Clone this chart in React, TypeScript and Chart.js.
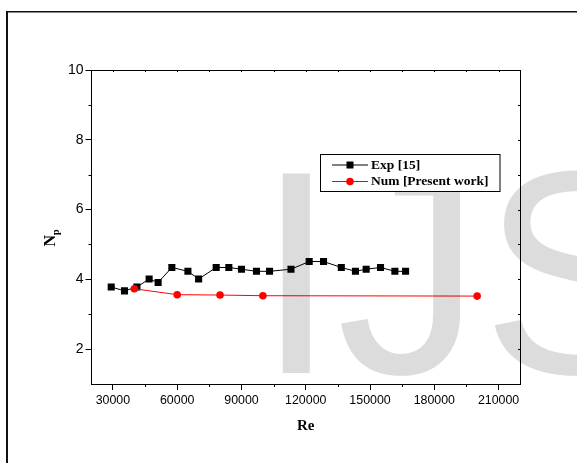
import React, { useEffect, useRef } from "react";
import { Chart, registerables } from "chart.js";

Chart.register(...registerables);

const expRe = [29200, 35400, 41200, 46900, 51100, 57500, 65000, 70000, 78200, 84100, 90000, 97000, 103100, 113100, 121600, 128300, 136600, 143200, 148200, 154900, 161600, 166600];
const expNp = [3.78, 3.67, 3.78, 4.01, 3.91, 4.34, 4.23, 4.01, 4.34, 4.34, 4.29, 4.23, 4.23, 4.29, 4.51, 4.51, 4.34, 4.23, 4.29, 4.34, 4.23, 4.23];
const numRe = [40000, 60000, 80000, 100000, 200000];
const numNp = [3.73, 3.56, 3.55, 3.53, 3.52];

const xTicks = [30000, 60000, 90000, 120000, 150000, 180000, 210000];
const xMinorTicks = [45000, 75000, 105000, 135000, 165000, 195000];
const yTicks = [2, 4, 6, 8, 10];
const yMinorTicks = [3, 5, 7, 9];

const expLabel = "Exp [15]";
const numLabel = "Num [Present work]";
const xTitle = "Re";
const yTitleMain = "N";
const yTitleSub = "p";
const watermark = "IJS";

const SANS = '"Liberation Sans", Arial, sans-serif';
const SERIF = '"Liberation Serif", "Times New Roman", serif';

const extrasPlugin = {
  id: "extras",
  afterDraw(chart: any) {
    const ctx = chart.ctx as CanvasRenderingContext2D;
    const ca = chart.chartArea;
    const xs = chart.scales.x;
    const ys = chart.scales.y;
    ctx.save();
    ctx.strokeStyle = "#000";
    ctx.lineWidth = 1;
    // top & right axis lines
    ctx.beginPath();
    ctx.moveTo(ca.left, Math.round(ca.top) + 0.5);
    ctx.lineTo(ca.right, Math.round(ca.top) + 0.5);
    ctx.moveTo(Math.round(ca.right) + 0.5, ca.top);
    ctx.lineTo(Math.round(ca.right) + 0.5, ca.bottom);
    ctx.stroke();
    // minor ticks bottom/left, and top/right inward ticks
    ctx.beginPath();
    for (const v of xMinorTicks) {
      const px = Math.round(xs.getPixelForValue(v)) + 0.5;
      ctx.moveTo(px, ca.bottom);
      ctx.lineTo(px, ca.bottom + 3);
    }
    for (const v of yMinorTicks) {
      const py = Math.round(ys.getPixelForValue(v)) + 0.5;
      ctx.moveTo(ca.left, py);
      ctx.lineTo(ca.left - 3, py);
    }
    for (const v of [...xTicks, ...xMinorTicks]) {
      const px = Math.round(xs.getPixelForValue(v)) + 0.5;
      ctx.moveTo(px, ca.top);
      ctx.lineTo(px, ca.top + 2);
    }
    for (const v of [...yTicks, ...yMinorTicks]) {
      const py = Math.round(ys.getPixelForValue(v)) + 0.5;
      ctx.moveTo(ca.right, py);
      ctx.lineTo(ca.right - 2, py);
    }
    ctx.stroke();

    // axis titles
    ctx.fillStyle = "#000";
    ctx.font = `bold 15px ${SERIF}`;
    ctx.textAlign = "center";
    ctx.textBaseline = "alphabetic";
    ctx.fillText(xTitle, (ca.left + ca.right) / 2, 430);

    ctx.save();
    ctx.translate(55, 240);
    ctx.rotate(-Math.PI / 2);
    ctx.textAlign = "left";
    ctx.font = `bold 16px ${SERIF}`;
    ctx.fillText(yTitleMain, -6.5, 0);
    const nw = ctx.measureText(yTitleMain).width;
    ctx.font = `bold 10px ${SERIF}`;
    ctx.fillText(yTitleSub, -6.5 + nw, 4);
    ctx.restore();

    // outer figure frame
    ctx.fillStyle = "#111";
    ctx.fillRect(6, 11, 2, chart.height - 11);
    ctx.fillRect(6, 11, chart.width - 6, 1.5);

    // watermark
    ctx.save();
    ctx.globalCompositeOperation = "multiply";
    ctx.fillStyle = "#dcdcdc";
    ctx.font = `290px ${SANS}`;
    ctx.textAlign = "left";
    ctx.textBaseline = "alphabetic";
    ctx.fillText(watermark, 256, 373);
    ctx.restore();

    // legend box
    const bx = 320.5, by = 154.5, bw = 179.5, bh = 37;
    ctx.fillStyle = "#fff";
    ctx.fillRect(bx, by, bw, bh);
    ctx.strokeStyle = "#000";
    ctx.lineWidth = 1;
    ctx.strokeRect(bx, by, bw, bh);
    const rows = [165, 181.5];
    chart.data.datasets.forEach((ds: any, i: number) => {
      const y = rows[i];
      ctx.strokeStyle = ds.borderColor;
      ctx.lineWidth = 1;
      ctx.beginPath();
      ctx.moveTo(332, y);
      ctx.lineTo(368, y);
      ctx.stroke();
      ctx.fillStyle = ds.pointBackgroundColor;
      if (ds.pointStyle === "rect") {
        ctx.fillRect(350 - 3.5, y - 3.5, 7, 7);
      } else {
        ctx.beginPath();
        ctx.arc(350, y, 3.8, 0, Math.PI * 2);
        ctx.fill();
      }
      ctx.fillStyle = "#000";
      ctx.font = `bold 13.5px ${SERIF}`;
      ctx.textAlign = "left";
      ctx.textBaseline = "middle";
      ctx.fillText(ds.label, 371, y + 0.5);
    });
    ctx.restore();
  },
};

export default function App() {
  const canvasRef = useRef<HTMLCanvasElement | null>(null);

  useEffect(() => {
    if (!canvasRef.current) return;
    const chart = new Chart(canvasRef.current, {
      type: "line",
      data: {
        datasets: [
          {
            label: expLabel,
            data: expRe.map((x, i) => ({ x, y: expNp[i] })),
            borderColor: "#000",
            backgroundColor: "#000",
            pointBackgroundColor: "#000",
            pointBorderColor: "#000",
            pointStyle: "rect",
            pointRadius: 5,
            pointBorderWidth: 0,
            borderWidth: 1,
            tension: 0,
            order: 1,
          },
          {
            label: numLabel,
            data: numRe.map((x, i) => ({ x, y: numNp[i] })),
            borderColor: "#ff0000",
            backgroundColor: "#ff0000",
            pointBackgroundColor: "#ff0000",
            pointBorderColor: "#ff0000",
            pointStyle: "circle",
            pointRadius: 3.8,
            pointBorderWidth: 0,
            borderWidth: 1,
            tension: 0,
            order: 0,
          },
        ],
      },
      options: {
        animation: false,
        responsive: true,
        maintainAspectRatio: false,
        events: [],
        layout: { padding: { left: 0, top: 70, right: 57, bottom: 49 } },
        plugins: { legend: { display: false }, tooltip: { enabled: false } },
        scales: {
          x: {
            type: "linear",
            min: 20000,
            max: 220000,
            afterBuildTicks: (s: any) => {
              s.ticks = xTicks.map((v) => ({ value: v }));
            },
            afterFit: (s: any) => {
              s.height = 30;
            },
            grid: { display: true, drawOnChartArea: false, drawTicks: true, tickLength: 6, color: "#000" },
            border: { display: true, color: "#000", width: 1 },
            ticks: {
              color: "#000",
              font: { family: SANS, size: 12.4 },
              padding: 3,
              maxRotation: 0,
              autoSkip: false,
              callback: (v: any) => String(v),
            },
          },
          y: {
            type: "linear",
            min: 1,
            max: 10,
            afterBuildTicks: (s: any) => {
              s.ticks = yTicks.map((v) => ({ value: v }));
            },
            afterFit: (s: any) => {
              s.width = 91.5;
            },
            grid: { display: true, drawOnChartArea: false, drawTicks: true, tickLength: 6, color: "#000" },
            border: { display: true, color: "#000", width: 1 },
            ticks: {
              color: "#000",
              font: { family: SANS, size: 14 },
              padding: 2,
              autoSkip: false,
              callback: (v: any) => String(v),
            },
          },
        },
      },
      plugins: [extrasPlugin],
    } as any);
    return () => chart.destroy();
  }, []);

  return (
    <div style={{ position: "absolute", left: 0, top: 0, width: 577, height: 463 }}>
      <canvas ref={canvasRef} />
    </div>
  );
}
